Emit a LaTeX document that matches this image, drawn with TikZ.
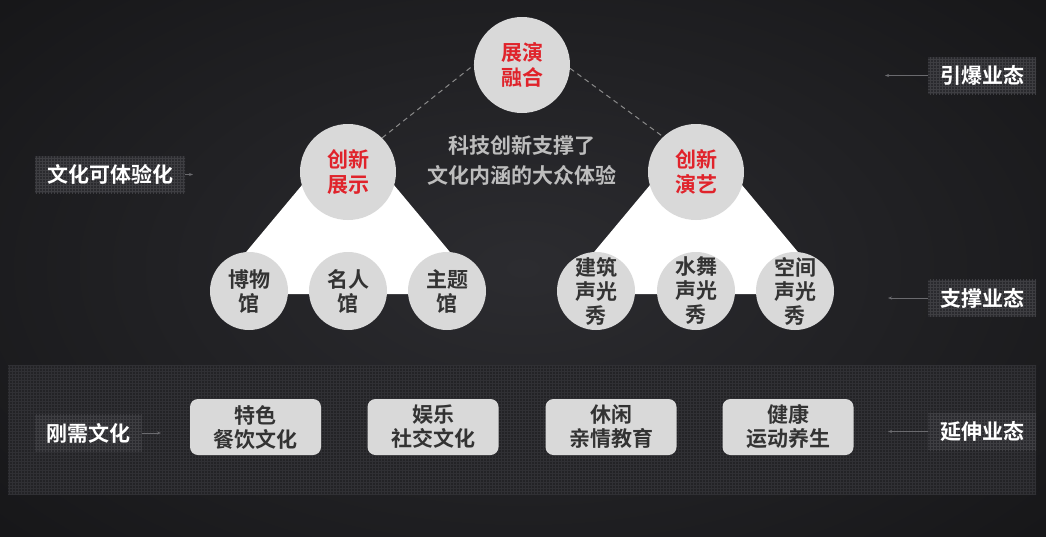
\documentclass[tikz,border=0pt]{standalone}
\usepackage{fontspec}
\setmainfont{Noto Sans CJK SC}[BoldFont={Noto Sans CJK SC Bold}]
\usetikzlibrary{patterns,arrows.meta}
\definecolor{bgin}{HTML}{2C2C30}
\definecolor{bgout}{HTML}{161618}
\definecolor{circ}{HTML}{D9D9D9}
\definecolor{redt}{HTML}{E0232B}
\definecolor{darkt}{HTML}{333333}
\definecolor{midt}{HTML}{BDBDBD}
\definecolor{band}{HTML}{232326}
\definecolor{bandgrid}{HTML}{303034}
\definecolor{lab}{HTML}{2A2A2E}
\definecolor{labgrid}{HTML}{3E3E42}
\definecolor{dashc}{HTML}{8A8A8A}
\definecolor{tickc}{HTML}{6A6A6E}
\tikzset{
  bigc/.style={circle, fill=circ, minimum size=96pt, inner sep=0pt},
  smallc/.style={circle, fill=circ, minimum size=78pt, inner sep=0pt},
  redtxt/.style={text=redt, font=\bfseries\fontsize{21}{25}\selectfont, align=center, inner sep=0pt},
  darktxt/.style={text=darkt, font=\bfseries\fontsize{21}{24}\selectfont, align=center, inner sep=0pt},
  bandbox/.style={rounded corners=8pt, fill=circ, minimum width=131pt, minimum height=56pt, inner sep=0pt,
    text=darkt, font=\bfseries\fontsize{21}{24}\selectfont, align=center},
  labelbox/.style={preaction={fill=lab}, pattern=grid, pattern color=labgrid, text=white,
    font=\bfseries\fontsize{21}{24}\selectfont, inner sep=0pt, minimum height=37pt},
  tickline/.style={draw=tickc, line width=0.7pt, -{Stealth[length=4pt,width=3pt]}},
  dashline/.style={draw=dashc, line width=1pt, dash pattern=on 5pt off 4pt},
}
\begin{document}
\begin{tikzpicture}[x=1pt, y=-1pt]
  \useasboundingbox (0,0) rectangle (1046,536);
  % background
  \shade[inner color=bgin, outer color=bgout] (-200,-150) rectangle (1246,686);
  % bottom band
  \path[preaction={fill=band}, pattern=grid, pattern color=bandgrid] (8,365) rectangle (1036,494);
  % white triangles
  \fill[white] (348,130) -- (211,294) -- (485,294) -- cycle;
  \fill[white] (696,130) -- (559,294) -- (833,294) -- cycle;
  % circles
  \node[bigc] (zyrh) at (522,65) {};
  \node[bigc] (cxzs) at (348,172) {};
  \node[bigc] (cxyy) at (696,172) {};
  \node[smallc] (bwg) at (249,291) {};
  \node[smallc] (mrg) at (348,291) {};
  \node[smallc] (ztg) at (447,291) {};
  \node[smallc] (jz) at (596,291) {};
  \node[smallc] (sw) at (696,291) {};
  \node[smallc] (kj) at (795,291) {};
  % dashed links
  \draw[dashline] (cxzs.45) -- (zyrh.180);
  \draw[dashline] (zyrh.-4) -- (cxyy.133);
  % circle texts
  \node[redtxt] (zyrh-t) at (zyrh) {展演\\融合};
  \node[redtxt] (cxzs-t) at (cxzs) {创新\\展示};
  \node[redtxt] (cxyy-t) at (cxyy) {创新\\演艺};
  \node[darktxt] (bwg-t) at (bwg) {博物\\馆};
  \node[darktxt] (mrg-t) at (mrg) {名人\\馆};
  \node[darktxt] (ztg-t) at (ztg) {主题\\馆};
  \node[darktxt] (jz-t) at (jz) {建筑\\声光\\秀};
  \node[darktxt] (sw-t) at (sw) {水舞\\声光\\秀};
  \node[darktxt] (kj-t) at (kj) {空间\\声光\\秀};
  % center text
  \node[text=midt, font=\bfseries\fontsize{21}{30}\selectfont, align=center, inner sep=0pt] (mid) at (522,160)
    {科技创新支撑了\\文化内涵的大众体验};
  % bottom boxes
  \node[bandbox] (b1) at (255.5,427) {特色\\餐饮文化};
  \node[bandbox] (b2) at (433,427) {娱乐\\社交文化};
  \node[bandbox] (b3) at (611,427) {休闲\\亲情教育};
  \node[bandbox] (b4) at (788,427) {健康\\运动养生};
  % side labels
  \node[labelbox, minimum width=150pt] (l1) at (110,174.5) {文化可体验化};
  \node[labelbox, minimum width=107pt] (l2) at (88.5,433) {刚需文化};
  \node[labelbox, minimum width=108pt] (r1) at (982,75.5) {引爆业态};
  \node[labelbox, minimum width=108pt] (r2) at (982,298) {支撑业态};
  \node[labelbox, minimum width=108pt] (r3) at (982,431.5) {延伸业态};
  % ticks
  \coordinate (l1e) at (193,174.5);
  \coordinate (l2e) at (161,433);
  \coordinate (r1e) at (885,75.5);
  \coordinate (r2e) at (888,298);
  \coordinate (r3e) at (888,431.5);
  \draw[tickline] (l1.east) -- (l1e);
  \draw[tickline] (l2.east) -- (l2e);
  \draw[tickline] (r1.west) -- (r1e);
  \draw[tickline] (r2.west) -- (r2e);
  \draw[tickline] (r3.west) -- (r3e);
\end{tikzpicture}
\end{document}
